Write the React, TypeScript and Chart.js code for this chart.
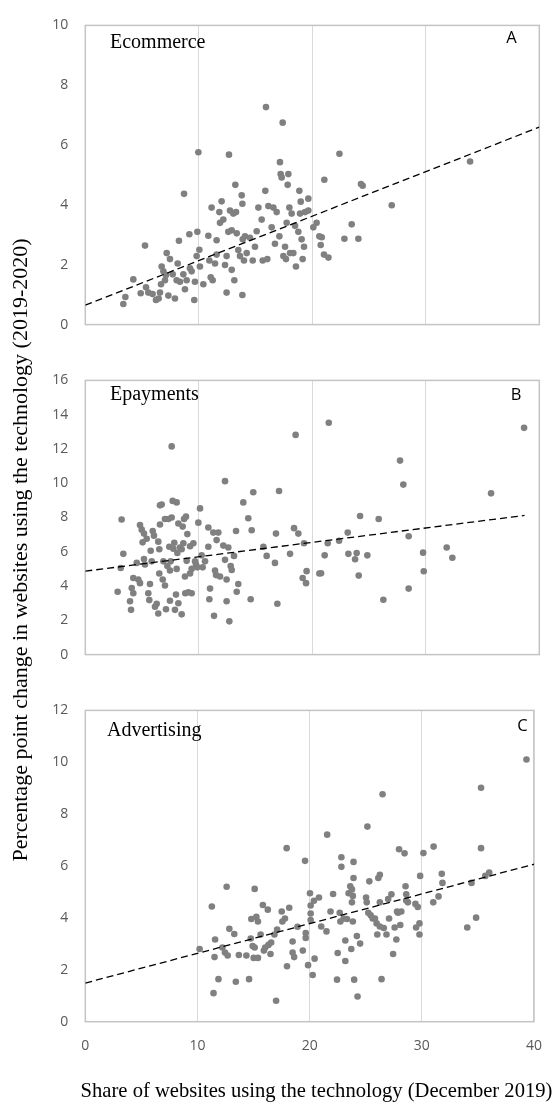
import React, { useEffect, useRef } from "react";
import { Chart, registerables } from "chart.js";

Chart.register(...registerables);

// ---------- shared axis ----------
const xTickMin = 0;
const xTickMax = 40;
const xTickStep = 10;

// ---------- Panel A: Ecommerce ----------
const ecommerceShare = [
  3.35, 3.53, 4.23, 5.26, 4.88, 5.35, 5.55, 5.93, 6.23, 6.46, 6.58, 6.73, 6.88, 7.11, 7.02, 6.67, 7.17, 7.46, 7.32, 7.9,
  7.7, 8.14, 8.25, 8.05, 8.34, 8.64, 8.78, 8.93, 8.7, 9.17, 9.22, 9.37, 9.6, 9.66, 9.81, 9.87, 9.96, 10.05, 10.1, 10.4,
  10.84, 10.93, 11.05, 11.22, 11.13, 11.43, 11.57, 11.57, 11.81, 11.87, 12.01, 12.16, 12.31, 12.45, 12.45, 12.6, 12.66, 12.75, 12.9, 12.9,
  13.04, 13.13, 13.22, 13.28, 13.34, 13.48, 13.63, 13.78, 13.84, 13.84, 13.87, 13.98, 14.07, 14.22, 14.51, 14.75, 14.95, 15.1, 15.25, 15.54,
  15.63, 15.86, 15.92, 16.04, 16.13, 16.42, 16.57, 16.71, 16.86, 17.1, 17.15, 17.21, 17.3, 17.39, 17.45, 17.6, 17.68, 17.74, 17.83, 17.89,
  17.98, 18.04, 18.18, 18.33, 18.48, 18.56, 18.77, 18.86, 18.92, 18.98, 19.06, 19.15, 19.27, 19.36, 19.65, 19.65, 20.09, 20.38, 20.62,
  21.06, 22.39, 24.29, 24.44, 27.0, 23.47, 22.83, 24.06, 20.83, 20.74, 21.03, 21.42, 33.9,
];
const ecommerceChange = [
  0.69, 0.92, 1.51, 2.64, 1.05, 1.25, 1.07, 1.02, 0.82, 0.87, 1.07, 1.94, 1.78, 1.66, 1.48, 1.35, 2.39, 2.19, 0.97, 0.87,
  1.68, 2.04, 2.8, 1.48, 1.43, 1.68, 1.18, 1.48, 4.37, 3.02, 1.88, 1.78, 0.82, 1.43, 2.29, 3.1, 5.76, 2.5, 1.94, 1.35,
  2.97, 2.14, 1.58, 1.48, 3.91, 2.04, 2.82, 2.34, 3.76, 3.4, 4.12, 3.51, 1.99, 2.29, 1.07, 3.1, 5.68, 3.81, 3.15, 1.83,
  3.71, 1.48, 4.67, 3.76, 3.05, 2.49, 2.29, 4.32, 4.04, 0.99, 2.85, 2.14, 2.95, 2.39, 2.9, 2.14, 2.6, 3.12, 3.91, 3.51,
  2.14, 4.47, 7.27, 2.19, 3.96, 3.25, 3.91, 2.7, 3.76, 2.95, 5.43, 5.03, 4.92, 6.75, 2.29, 2.6, 2.19, 3.4, 4.67, 5.03,
  3.91, 2.39, 3.71, 2.39, 3.3, 1.94, 3.1, 4.47, 3.71, 4.11, 2.85, 2.19, 2.6, 3.76, 4.21, 3.81, 3.25, 3.4, 2.95,
  4.84, 5.71, 4.7, 4.64, 3.99, 3.35, 2.87, 2.87, 2.92, 2.66, 2.34, 2.24, 5.45,
];
const ecommerceTrendShare = [0, 40];
const ecommerceTrendChange = [0.65, 6.6];

// ---------- Panel B: Epayments ----------
const epaymentsShare = [
  3.2, 3.35, 2.85, 3.12, 3.94, 4.03, 4.09, 4.23, 4.23, 4.53, 4.67, 4.82, 4.82, 4.97, 5.05, 5.17, 5.17, 5.26, 5.41, 5.55,
  5.64, 5.7, 5.76, 5.85, 5.94, 6.05, 6.14, 6.29, 6.43, 6.43, 6.52, 6.52, 6.58, 6.58, 6.73, 6.82, 6.88, 7.02, 7.02, 7.11,
  7.23, 7.32, 7.4, 7.46, 7.46, 7.52, 7.61, 7.61, 7.7, 7.76, 7.84, 7.9, 7.99, 8.05, 8.05, 8.11, 8.2, 8.2, 8.34, 8.49,
  8.49, 8.58, 8.64, 8.7, 8.78, 8.81, 8.87, 8.93, 8.99, 9.08, 9.23, 9.23, 9.37, 9.37, 9.52, 9.67, 9.75, 9.87, 9.96, 10.11,
  10.25, 10.34, 10.55, 10.84, 10.84, 10.99, 10.93, 11.28, 11.34, 11.43, 11.52, 11.57, 11.72, 11.87, 12.16, 12.31, 12.31, 12.45, 12.45, 12.6,
  12.69, 12.81, 12.9, 13.1, 13.28, 13.34, 13.48, 13.92, 14.36, 14.57, 14.66, 14.8, 15.69, 15.98, 16.71, 16.8, 16.92, 17.07, 18.04, 18.39,
  18.53, 18.77, 19.15, 19.27, 19.45, 19.5, 20.62,
  21.45, 27.73, 28.02, 35.75, 38.66, 24.21, 25.85, 23.12, 22.36, 21.36, 28.49, 21.09, 23.18, 23.91, 23.77, 24.85, 29.76, 31.84, 32.34, 20.77,
  24.09, 29.82, 28.49, 26.26,
];
const epaymentsChange = [
  7.88, 5.88, 3.67, 5.05, 3.11, 2.61, 3.88, 3.58, 4.47, 5.35, 4.38, 4.17, 7.56, 7.29, 6.55, 7.06, 5.58, 5.26, 6.76, 3.58,
  3.18, 4.12, 6.06, 5.44, 7.21, 6.94, 2.79, 2.97, 6.59, 2.4, 6.15, 4.73, 7.59, 8.71, 8.76, 4.38, 5.44, 7.91, 4.03, 2.65,
  5.17, 7.91, 6.29, 4.91, 3.14, 5.44, 12.15, 8.0, 8.97, 6.18, 6.53, 2.61, 3.5, 8.88, 5.0, 5.93, 7.65, 3.0, 6.25, 6.15,
  2.35, 7.47, 6.5, 7.91, 4.56, 3.58, 8.05, 5.47, 7.03, 3.64, 6.32, 4.73, 3.58, 5.0, 6.5, 5.44, 5.26, 5.09, 7.7, 8.53,
  5.79, 5.09, 5.44, 7.42, 6.29, 3.85, 3.23, 7.12, 2.26, 4.91, 4.64, 6.68, 7.12, 4.56, 6.36, 5.53, 10.12, 3.11, 4.38, 6.25,
  1.94, 5.17, 4.94, 5.76, 7.21, 3.67, 4.12, 8.88, 7.96, 3.23, 7.26, 9.47, 6.29, 5.76, 5.35, 7.06, 2.97, 9.55, 5.88, 7.38,
  12.82, 7.06, 4.47, 6.5, 4.17, 4.87, 4.73,
  13.53, 11.32, 9.92, 9.41, 13.23, 8.09, 7.91, 7.12, 6.64, 6.5, 6.91, 5.79, 5.88, 5.93, 5.56, 5.79, 5.95, 6.25, 5.65, 4.75,
  4.61, 4.86, 3.85, 3.2,
];
const epaymentsTrendShare = [0, 38.7];
const epaymentsTrendChange = [4.87, 8.12];

// ---------- Panel C: Advertising ----------
const advertisingShare = [
  10.19, 11.28, 11.43, 11.52, 11.57, 11.87, 12.22, 12.45, 12.6, 12.69, 12.84, 13.28, 13.42, 13.69, 14.36, 14.6, 14.75, 14.8, 14.92, 15.01,
  15.1, 15.1, 15.25, 15.39, 15.39, 15.63, 15.83, 15.92, 16.04, 16.27, 16.33, 16.51, 16.57, 16.86, 17.01, 17.1, 17.51, 17.57, 17.8, 17.95,
  17.98, 18.18, 18.48, 18.48, 18.62, 18.92, 19.39, 19.59, 19.65, 19.65, 19.86, 20.03, 20.09, 20.09, 20.09, 20.27, 20.38, 20.44,
  20.83, 21.03, 21.5, 21.56, 21.86, 22.09, 22.5, 22.44, 22.83, 22.83, 22.68, 22.74, 23.03, 23.18, 23.18, 23.33, 23.47, 23.62, 23.77, 23.77,
  23.85, 23.91, 23.91, 23.71, 23.97, 24.21, 24.27, 24.5, 23.85, 25.03, 25.09, 25.15, 25.32, 25.23, 25.44, 25.62, 25.82, 25.97, 26.03, 26.12,
  26.26, 26.26, 26.26, 26.41, 26.5, 26.61, 26.85, 27.0, 27.08, 27.29, 27.44, 27.58, 27.73, 27.79, 27.88, 27.97, 28.08, 28.17, 28.46, 28.55,
  28.61, 28.61, 28.76, 29.43, 29.49, 29.64, 29.79, 29.79, 29.85, 30.14, 31.02, 31.05, 31.49, 31.78, 31.84, 34.05, 34.43, 34.84, 35.28, 35.28,
  35.66, 36.01, 39.33,
];
const advertisingChange = [
  2.8, 4.44, 1.1, 2.49, 3.17, 1.64, 2.86, 2.67, 5.2, 2.55, 3.58, 3.38, 1.54, 2.57, 2.55, 1.64, 3.21, 3.96, 2.92, 2.46,
  5.12, 2.86, 4.04, 2.46, 3.86, 3.36, 4.5, 2.74, 2.86, 4.32, 2.96, 2.61, 3.05, 3.36, 0.81, 3.55, 4.25, 3.86, 3.98, 6.69,
  2.14, 4.39, 3.09, 2.67, 2.49, 3.66, 2.74, 6.2, 3.42, 3.23, 2.18, 4.95, 4.48, 4.17, 3.92, 1.8, 4.66, 2.43,
  4.79, 3.67, 3.48, 7.21, 4.25, 4.92, 2.65, 1.62, 6.34, 5.97, 4.2, 3.86, 3.98, 3.13, 2.34, 3.96, 4.95, 5.22, 5.1, 4.6,
  4.85, 6.16, 5.54, 2.8, 1.62, 3.3, 0.97, 3.01, 3.86, 4.79, 4.6, 7.52, 5.41, 4.2, 4.1, 3.98, 3.98, 3.79, 3.36, 5.54,
  5.66, 4.6, 3.67, 1.64, 8.77, 3.61, 3.36, 4.73, 3.98, 4.91, 2.61, 3.63, 3.17, 4.25, 4.2, 6.65, 3.73, 4.25, 6.49, 5.22,
  4.91, 4.67, 4.6, 4.54, 3.63, 4.42, 3.36, 3.79, 5.62, 6.5, 4.6, 6.75, 4.83, 5.7, 5.35, 3.63, 5.35, 4.01, 9.02, 6.69,
  5.62, 5.75, 10.11,
];
const advertisingTrendShare = [0, 40];
const advertisingTrendChange = [1.49, 6.07];

// ---------- y tick ranges ----------
const ecommerceYMax = 10;
const epaymentsYMax = 16;
const advertisingYMax = 12;
const yTickStep = 2;

const panelNames = ["Ecommerce", "Epayments", "Advertising"];
const panelLetters = ["A", "B", "C"];
const xAxisTitle = "Share of websites using the technology (December 2019)";
const yAxisTitle = "Percentage point change in websites using the technology (2019-2020)";

const tickFont = { family: "'Open Sans', sans-serif", size: 14 };
const tickColor = "#595959";

const decoPlugin = {
  id: "panelDeco",
  beforeDatasetsDraw(chart: any) {
    const { ctx, chartArea } = chart;
    ctx.save();
    ctx.strokeStyle = "#c4c4c4";
    ctx.lineWidth = 1.5;
    ctx.strokeRect(chartArea.left, chartArea.top, chartArea.right - chartArea.left, chartArea.bottom - chartArea.top);
    ctx.restore();
  },
  afterDraw(chart: any, _args: any, opts: any) {
    const { ctx } = chart;
    ctx.save();
    ctx.fillStyle = "#000";
    ctx.font = "20px 'Liberation Serif', serif";
    ctx.textAlign = "left";
    ctx.textBaseline = "alphabetic";
    ctx.fillText(opts.name, opts.nameX, opts.nameY);
    ctx.font = "16.5px 'Open Sans', sans-serif";
    ctx.textAlign = "center";
    ctx.textBaseline = "middle";
    ctx.fillText(opts.letter, opts.letterX, opts.letterY);
    ctx.restore();
  },
};

function makeConfig(p: any) {
  return {
    type: "scatter",
    data: {
      datasets: [
        {
          type: "line",
          data: p.trendX.map((x: number, i: number) => ({ x, y: p.trendY[i] })),
          borderColor: "#000",
          borderWidth: 1.3,
          borderDash: [7, 4],
          pointRadius: 0,
          fill: false,
          showLine: true,
          order: 0,
        },
        {
          type: "scatter",
          data: p.xs.map((x: number, i: number) => ({ x, y: p.ys[i] })),
          backgroundColor: "#808080",
          borderWidth: 0,
          pointRadius: 3.3,
          order: 1,
        },
      ],
    },
    options: {
      animation: false,
      responsive: false,
      events: [],
      layout: { padding: { top: p.padTop, bottom: p.padBottom, left: 0, right: 18.7 } },
      plugins: {
        legend: { display: false },
        tooltip: { enabled: false },
        panelDeco: p.deco,
      },
      scales: {
        x: {
          type: "linear",
          min: xTickMin,
          max: xTickMax,
          ticks: { stepSize: xTickStep, display: p.showX, padding: 16, font: tickFont, color: tickColor },
          grid: { color: "#d9d9d9", lineWidth: 1, drawTicks: false },
          border: { display: false },
          afterFit: (s: any) => {
            s.height = p.xHeight;
          },
        },
        y: {
          type: "linear",
          min: 0,
          max: p.yMax,
          ticks: { stepSize: yTickStep, padding: 17, font: tickFont, color: tickColor },
          grid: { display: false, drawTicks: false },
          border: { display: false },
          afterFit: (s: any) => {
            s.width = 85.3;
          },
        },
      },
    },
    plugins: [decoPlugin],
  };
}

export default function App() {
  const refA = useRef<HTMLCanvasElement>(null);
  const refB = useRef<HTMLCanvasElement>(null);
  const refC = useRef<HTMLCanvasElement>(null);

  useEffect(() => {
    const charts: Chart[] = [];
    charts.push(
      new Chart(
        refA.current as HTMLCanvasElement,
        makeConfig({
          xs: ecommerceShare,
          ys: ecommerceChange,
          trendX: ecommerceTrendShare,
          trendY: ecommerceTrendChange,
          yMax: ecommerceYMax,
          padTop: 12.7,
          padBottom: 8,
          xHeight: 0,
          showX: false,
          deco: { name: panelNames[0], nameX: 110, nameY: 48, letter: panelLetters[0], letterX: 511.5, letterY: 38.5 },
        }) as any
      )
    );
    charts.push(
      new Chart(
        refB.current as HTMLCanvasElement,
        makeConfig({
          xs: epaymentsShare,
          ys: epaymentsChange,
          trendX: epaymentsTrendShare,
          trendY: epaymentsTrendChange,
          yMax: epaymentsYMax,
          padTop: 14,
          padBottom: 9,
          xHeight: 0,
          showX: false,
          deco: { name: panelNames[1], nameX: 110, nameY: 45, letter: panelLetters[1], letterX: 516, letterY: 40.5 },
        }) as any
      )
    );
    charts.push(
      new Chart(
        refC.current as HTMLCanvasElement,
        makeConfig({
          xs: advertisingShare,
          ys: advertisingChange,
          trendX: advertisingTrendShare,
          trendY: advertisingTrendChange,
          yMax: advertisingYMax,
          padTop: 15,
          padBottom: 0,
          xHeight: 88.3,
          showX: true,
          deco: { name: panelNames[2], nameX: 107, nameY: 50.7, letter: panelLetters[2], letterX: 522.5, letterY: 41 },
        }) as any
      )
    );
    return () => charts.forEach((c) => c.destroy());
  }, []);

  return (
    <div style={{ position: "absolute", left: 0, top: 0, width: 558, height: 1110, background: "#fff", overflow: "hidden" }}>
      <canvas ref={refA} width={558} height={350} style={{ position: "absolute", left: 0, top: 0, width: 558, height: 350 }} />
      <canvas ref={refB} width={558} height={325} style={{ position: "absolute", left: 0, top: 355, width: 558, height: 325 }} />
      <canvas ref={refC} width={558} height={425} style={{ position: "absolute", left: 0, top: 685, width: 558, height: 425 }} />
      <div
        style={{
          position: "absolute",
          left: 20 - 360,
          top: 550 - 13,
          width: 720,
          height: 26,
          lineHeight: "26px",
          textAlign: "center",
          whiteSpace: "nowrap",
          transform: "rotate(-90deg)",
          transformOrigin: "50% 50%",
          fontFamily: "'Liberation Serif', serif",
          fontSize: 22,
          color: "#000",
        }}
      >
        {yAxisTitle}
      </div>
      <div
        style={{
          position: "absolute",
          left: 0,
          top: 1077,
          width: 633,
          height: 26,
          lineHeight: "26px",
          textAlign: "center",
          whiteSpace: "nowrap",
          fontFamily: "'Liberation Serif', serif",
          fontSize: 20.6,
          color: "#000",
        }}
      >
        {xAxisTitle}
      </div>
    </div>
  );
}
